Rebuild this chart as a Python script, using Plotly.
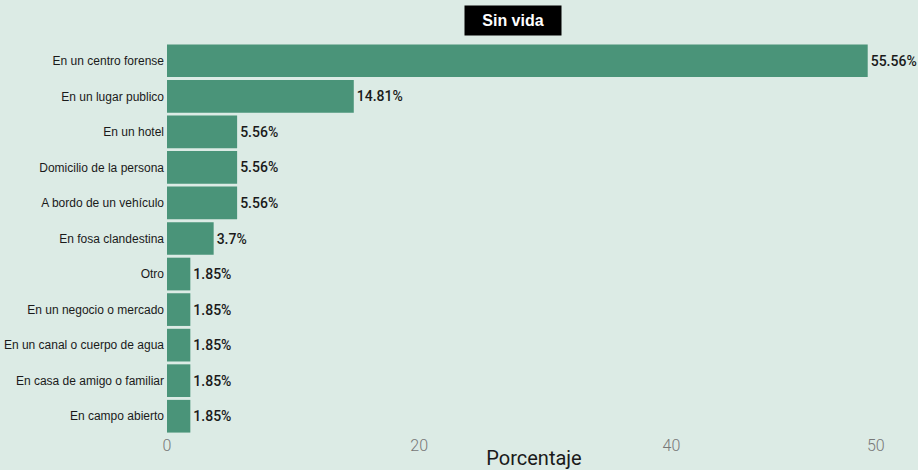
import plotly.graph_objects as go

categories = [
    "En un centro forense",
    "En un lugar publico",
    "En un hotel",
    "Domicilio de la persona",
    "A bordo de un vehículo",
    "En fosa clandestina",
    "Otro",
    "En un negocio o mercado",
    "En un canal o cuerpo de agua",
    "En casa de amigo o familiar",
    "En campo abierto",
]
porcentaje = [55.56, 14.81, 5.56, 5.56, 5.56, 3.7, 1.85, 1.85, 1.85, 1.85, 1.85]
labels = [f"{v}%" for v in porcentaje]

tick_vals = [0, 20, 40, 56.2]
tick_text = ["0", "20", "40", "50"]

fig = go.Figure()
fig.add_trace(go.Bar(
    x=porcentaje,
    y=categories,
    orientation='h',
    text=labels,
    textposition='outside',
    cliponaxis=False,
    textfont=dict(family="Roboto", size=14, color="#1a1a1a", weight=500),
    marker=dict(color="#4a9479", line=dict(width=0)),
    hoverinfo='skip',
))

# black title box
fig.add_annotation(
    text="<b>Sin vida</b>", xref="paper", yref="paper", x=0.471, y=1.0,
    yanchor="bottom", xanchor="center", showarrow=False,
    width=90, height=23,
    font=dict(family="Liberation Sans", size=16, color="white"),
    bgcolor="black", borderpad=3, yshift=7,
)

fig.update_layout(
    width=918, height=470,
    margin=dict(l=167, r=17, t=43, b=36, autoexpand=False),
    paper_bgcolor="#dcebe5",
    plot_bgcolor="#dcebe5",
    bargap=0.08,
    showlegend=False,
    xaxis=dict(
        range=[0, 58.2], tickvals=tick_vals, ticktext=tick_text,
        showgrid=False, zeroline=False, showline=False, automargin=False,
        tickfont=dict(family="Roboto", size=16, color="#777777", weight=300),
        title=dict(text="Porcentaje", standoff=0,
                   font=dict(family="Roboto", size=20, color="#1a1a1a")),
    ),
    yaxis=dict(
        autorange="reversed", showgrid=False, zeroline=False, showline=False,
        ticks="", ticklabelstandoff=2, automargin=False,
        tickfont=dict(family="Liberation Sans", size=12, color="#1a1a1a"),
    ),
)

fig.write_html("out.html", config={"displayModeBar": False},
               post_script="document.body.style.margin='0';")
